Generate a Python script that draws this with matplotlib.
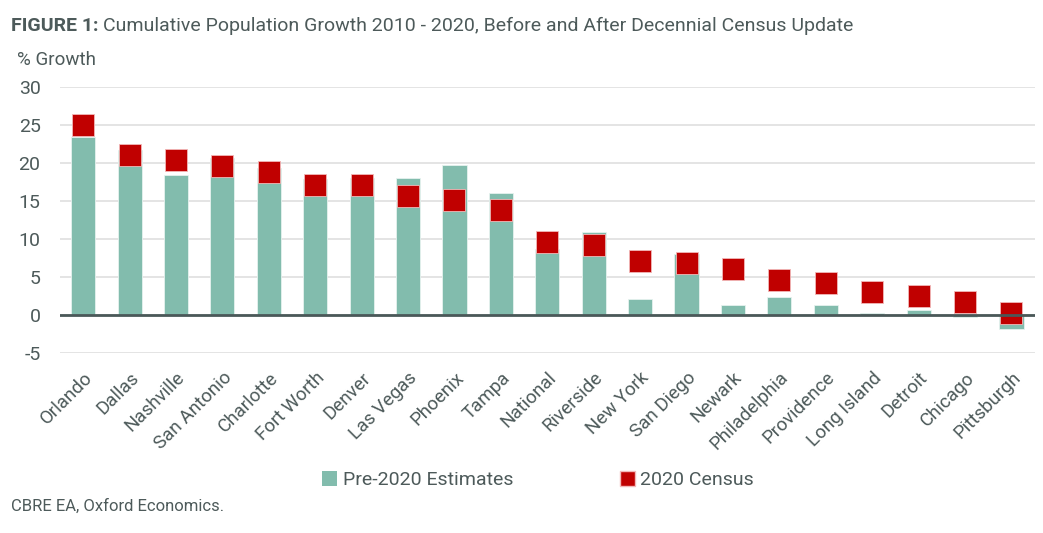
import matplotlib
matplotlib.use("Agg")
import matplotlib.pyplot as plt
from matplotlib.patches import Patch

plt.rcParams['font.family'] = ['Roboto', 'DejaVu Sans']

cities = ["Orlando", "Dallas", "Nashville", "San Antonio", "Charlotte", "Fort Worth",
          "Denver", "Las Vegas", "Phoenix", "Tampa", "National", "Riverside",
          "New York", "San Diego", "Newark", "Philadelphia", "Providence",
          "Long Island", "Detroit", "Chicago", "Pittsburgh"]
pre_2020 = [23.5, 21.7, 18.5, 20.7, 19.4, 17.9, 18.1, 18.0, 19.8, 16.1, 8.75,
            10.9, 2.1, 8.0, 1.3, 2.4, 1.3, 0.25, 0.65, -0.25, -1.85]
census_2020 = [25.0, 21.1, 20.4, 19.6, 18.8, 17.2, 17.2, 15.7, 15.2, 13.8, 9.7,
               9.2, 7.1, 6.9, 6.05, 4.6, 4.3, 3.0, 2.5, 1.7, 0.35]
yticks = [-5, 0, 5, 10, 15, 20, 25, 30]

teal = "#82bcad"
red = "#c00000"
txt = "#4d5a5a"

fig = plt.figure(figsize=(10.43, 5.33), dpi=100)
ax = fig.add_axes([0.0575, 0.3372, 0.9345, 0.499])

x = range(len(cities))
ax.bar(x, pre_2020, width=0.52, color=teal, edgecolor="#e6f2ef", linewidth=0.6, zorder=2)
ax.plot(x, census_2020, linestyle="none", marker="s", markersize=15.5,
        markerfacecolor=red, markeredgecolor="#f2b8b8", markeredgewidth=0.6, zorder=3)

ax.set_xlim(-0.5, len(cities) - 0.5)
ax.set_ylim(-5, 30)
ax.set_yticks(yticks)
ax.set_yticklabels([str(t) for t in yticks])
ax.yaxis.grid(True, color="#dcdcdc", linewidth=1.1, zorder=0)
ax.axhline(0, color="#4a5858", linewidth=2, zorder=4)
for s in ax.spines.values():
    s.set_visible(False)
ax.tick_params(axis="both", length=0, colors=txt)
ax.tick_params(axis="y", pad=14, labelsize=14)
ax.set_xticks(list(x))
ax.set_xticklabels(cities, rotation=45, ha="right", rotation_mode="anchor", fontsize=13.5)
ax.tick_params(axis="x", pad=11)

# title: bold prefix then regular text right after it
t1 = fig.text(0.011, 0.952, "FIGURE 1:", fontsize=14, fontweight="bold", color=txt, va="center")
fig.canvas.draw()
bb = t1.get_window_extent()
fig.text(bb.x1 / fig.bbox.width + 0.004, 0.952,
         "Cumulative Population Growth 2010 - 2020, Before and After Decennial Census Update",
         fontsize=14, color=txt, va="center")
fig.text(0.016, 0.888, "% Growth", fontsize=13.5, color=txt, va="center")
fig.text(0.011, 0.05, "CBRE EA, Oxford Economics.", fontsize=12, color=txt, va="center")

handles = [Patch(facecolor=teal, edgecolor="none"),
           Patch(facecolor=red, edgecolor="#f2b8b8")]
leg = fig.legend(handles, ["Pre-2020 Estimates", "2020 Census"], loc="center",
                 bbox_to_anchor=(0.516, 0.099), ncol=2, frameon=False, fontsize=14,
                 handlelength=0.75, handleheight=0.75, handletextpad=0.3, columnspacing=5.5)
for t in leg.get_texts():
    t.set_color(txt)

fig.savefig("out.png", dpi=100)
